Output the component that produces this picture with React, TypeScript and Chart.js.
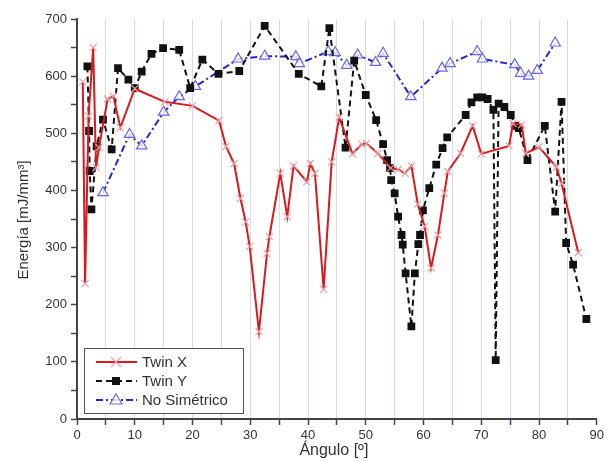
import React, { useEffect, useRef } from 'react';
import { Chart, registerables } from 'chart.js';

Chart.register(...registerables);

const FONT = '"Liberation Sans", Arial, sans-serif';

const twinXAngle = [1.0, 1.4, 2.0, 2.8, 3.3, 3.8, 5.3, 6.3, 7.5, 10.0, 15.2, 20.0, 24.6, 25.8, 27.2, 28.3, 29.2, 29.9, 31.5, 32.9, 33.3, 35.2, 36.4, 37.5, 39.8, 40.4, 41.2, 42.7, 44.1, 45.4, 47.7, 49.3, 50.1, 52.1, 54.3, 55.6, 56.8, 57.9, 59.0, 60.2, 61.3, 62.5, 63.6, 64.2, 66.4, 68.5, 70.0, 74.8, 75.5, 77.0, 77.7, 80.0, 83.0, 83.9, 86.8];
const twinXEnergy = [590, 237, 530, 650, 440, 475, 560, 565, 510, 578, 555, 548, 522, 477, 447, 386, 345, 302, 153, 290, 319, 430, 354, 443, 415, 447, 430, 227, 450, 528, 464, 481, 482, 465, 439, 437, 430, 443, 376, 337, 264, 322, 395, 433, 465, 513, 464, 478, 517, 515, 465, 476, 441, 412, 291];

const twinYAngle = [1.8, 2.1, 2.2, 2.5, 3.4, 4.5, 6.0, 7.1, 8.9, 10.0, 11.2, 12.9, 14.9, 17.7, 19.6, 21.7, 24.5, 28.1, 32.5, 38.4, 42.3, 43.7, 46.5, 48.0, 50.0, 51.8, 53.0, 53.7, 54.2, 54.4, 55.0, 55.6, 56.2, 56.4, 56.9, 57.9, 58.5, 59.1, 59.4, 59.9, 61.0, 62.2, 63.3, 64.1, 67.3, 68.3, 69.3, 70.2, 71.1, 72.1, 72.5, 73.0, 74.0, 75.1, 75.9, 76.5, 78.0, 81.0, 82.8, 83.9, 84.7, 85.9, 88.2];
const twinYEnergy = [617, 504, 434, 367, 477, 524, 472, 614, 594, 579, 608, 639, 649, 646, 579, 629, 604, 609, 688, 604, 582, 684, 475, 627, 567, 523, 481, 453, 439, 418, 395, 354, 322, 305, 255, 162, 255, 306, 322, 365, 404, 445, 474, 493, 532, 554, 563, 563, 560, 541, 103, 552, 546, 532, 513, 509, 453, 513, 363, 555, 308, 270, 175];

const noSimAngle = [4.5, 9.1, 11.2, 15.0, 17.7, 20.5, 27.9, 32.5, 37.9, 38.5, 43.5, 44.7, 46.7, 48.6, 51.7, 53.0, 57.8, 63.2, 64.6, 69.3, 70.2, 75.8, 76.8, 78.2, 79.7, 82.8];
const noSimEnergy = [396, 498, 478, 537, 564, 582, 630, 635, 634, 622, 643, 641, 619, 637, 624, 640, 564, 614, 622, 643, 630, 620, 605, 600, 610, 658];

const seriesLabels = ['Twin X', 'Twin Y', 'No Simétrico'];
const xTitle = 'Ángulo [º]';
const yTitle = 'Energía [mJ/mm³]';

const RED = '#d8191f';
const RED_MARK = '#e6a3a8';
const BLACK = '#111111';
const BLUE = '#2626c8';
const BLUE_MARK = '#6868e0';

const pts = (xs: number[], ys: number[]) => xs.map((x, i) => ({ x, y: ys[i] }));

function drawMarker(ctx: CanvasRenderingContext2D, kind: string, x: number, y: number) {
  ctx.save();
  if (kind === 'cross') {
    ctx.strokeStyle = RED_MARK;
    ctx.lineWidth = 1.2;
    const r = 5;
    ctx.beginPath();
    ctx.moveTo(x - r, y - r); ctx.lineTo(x + r, y + r);
    ctx.moveTo(x + r, y - r); ctx.lineTo(x - r, y + r);
    ctx.stroke();
  } else if (kind === 'rect') {
    ctx.fillStyle = BLACK;
    ctx.fillRect(x - 4, y - 4, 8, 8);
  } else {
    ctx.fillStyle = 'rgba(255,255,255,0.8)';
    ctx.strokeStyle = BLUE_MARK;
    ctx.lineWidth = 1.2;
    ctx.beginPath();
    ctx.moveTo(x, y - 6); ctx.lineTo(x + 6, y + 4); ctx.lineTo(x - 6, y + 4); ctx.closePath();
    ctx.fill(); ctx.stroke();
  }
  ctx.restore();
}

const decorPlugin = {
  id: 'decor',
  afterDraw(chart: any) {
    const ctx: CanvasRenderingContext2D = chart.ctx;
    const area = chart.chartArea;
    // legend box
    const lx = area.left + 7, ly = area.bottom - 71, lw = 159, lh = 65;
    ctx.save();
    ctx.fillStyle = '#ffffff';
    ctx.fillRect(lx, ly, lw, lh);
    ctx.strokeStyle = '#555';
    ctx.lineWidth = 1;
    ctx.strokeRect(lx + 0.5, ly + 0.5, lw, lh);
    const rows = [
      { label: seriesLabels[0], color: RED, dash: [] as number[], marker: 'cross' },
      { label: seriesLabels[1], color: BLACK, dash: [6, 4], marker: 'rect' },
      { label: seriesLabels[2], color: BLUE, dash: [7, 3, 2, 3], marker: 'tri' },
    ];
    rows.forEach((r, i) => {
      const y = ly + 14 + i * 19;
      ctx.save();
      ctx.strokeStyle = r.color;
      ctx.lineWidth = 2;
      ctx.setLineDash(r.dash);
      ctx.beginPath();
      ctx.moveTo(lx + 12, y);
      ctx.lineTo(lx + 53, y);
      ctx.stroke();
      ctx.restore();
      drawMarker(ctx, r.marker, lx + 32, y);
      ctx.fillStyle = '#333';
      ctx.font = `15px ${FONT}`;
      ctx.textAlign = 'left';
      ctx.textBaseline = 'middle';
      ctx.fillText(r.label, lx + 58, y + 1);
    });
    // axis titles
    ctx.fillStyle = '#333';
    ctx.font = `16px ${FONT}`;
    ctx.textAlign = 'center';
    ctx.textBaseline = 'middle';
    ctx.fillText(xTitle, (area.left + area.right) / 2 - 3, 451);
    ctx.translate(24, (area.top + area.bottom) / 2 + 1);
    ctx.rotate(-Math.PI / 2);
    ctx.font = `15px ${FONT}`;
    ctx.fillText(yTitle, 0, 0);
    ctx.restore();
  },
};

export default function App() {
  const ref = useRef<HTMLCanvasElement>(null);
  useEffect(() => {
    document.body.style.margin = '0';
    const canvas = ref.current!;
    const chart = new Chart(canvas, {
      type: 'line',
      data: {
        datasets: [
          {
            label: seriesLabels[0],
            data: pts(twinXAngle, twinXEnergy),
            borderColor: RED,
            borderWidth: 2,
            pointStyle: 'crossRot',
            pointRadius: 5,
            pointBorderColor: RED_MARK,
            pointBorderWidth: 1.2,
            tension: 0,
          },
          {
            label: seriesLabels[1],
            data: pts(twinYAngle, twinYEnergy),
            borderColor: BLACK,
            borderWidth: 2,
            borderDash: [6, 4],
            pointStyle: 'rect',
            pointRadius: 5.5,
            pointBackgroundColor: BLACK,
            pointBorderColor: BLACK,
            pointBorderWidth: 0,
            tension: 0,
          },
          {
            label: seriesLabels[2],
            data: pts(noSimAngle, noSimEnergy),
            borderColor: BLUE,
            borderWidth: 2,
            borderDash: [7, 3, 2, 3],
            pointStyle: 'triangle',
            pointRadius: 6,
            pointBackgroundColor: 'rgba(255,255,255,0.8)',
            pointBorderColor: BLUE_MARK,
            pointBorderWidth: 1.2,
            tension: 0,
          },
        ],
      },
      options: {
        responsive: false,
        animation: false,
        devicePixelRatio: 1,
        layout: { padding: { left: 0, top: 19, right: 6, bottom: 0 } },
        plugins: { legend: { display: false }, tooltip: { enabled: false } },
        scales: {
          x: {
            type: 'linear',
            min: 0,
            max: 90,
            afterFit: (s: any) => { s.height = 42; },
            border: { color: '#444', width: 2 },
            grid: {
              color: (c: any) => (c.tick && (c.tick.value === 0 || c.tick.value === 90) ? 'rgba(0,0,0,0)' : '#d9d9ee'),
              lineWidth: 1,
              tickColor: '#444',
              tickLength: 6,
              tickWidth: 1.5,
            },
            ticks: {
              stepSize: 5,
              autoSkip: false,
              maxRotation: 0,
              padding: 3,
              color: '#333',
              font: { family: FONT, size: 13 },
              callback: (v: any) => (Number(v) % 10 === 0 ? String(v) : ''),
            },
          },
          y: {
            type: 'linear',
            min: 0,
            max: 700,
            afterFit: (s: any) => { s.width = 77; },
            border: { color: '#444', width: 2 },
            grid: {
              drawOnChartArea: false,
              tickColor: '#444',
              tickLength: 6,
              tickWidth: 1.5,
            },
            ticks: {
              stepSize: 50,
              autoSkip: false,
              padding: 4,
              color: '#333',
              font: { family: FONT, size: 13 },
              callback: (v: any) => (Number(v) % 100 === 0 ? String(v) : ''),
            },
          },
        },
      },
      plugins: [decorPlugin],
    } as any);
    return () => chart.destroy();
  }, []);
  return (
    <div style={{ width: 607, height: 461 }}>
      <canvas ref={ref} width={607} height={461} style={{ display: 'block' }} />
    </div>
  );
}
